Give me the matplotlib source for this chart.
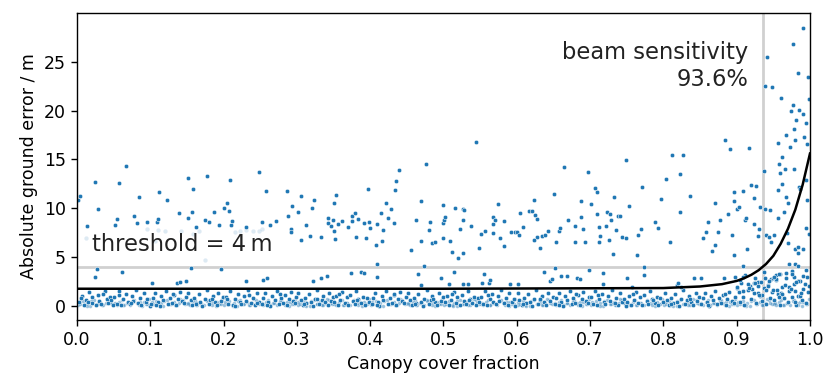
import matplotlib
matplotlib.use('Agg')
import matplotlib.pyplot as plt

# scattered points above the dense band
upper_x = [0.001, 0.004, 0.013, 0.025, 0.029, 0.024, 0.027, 0.054, 0.052, 0.058, 0.067, 0.062,
           0.078, 0.082, 0.084, 0.096, 0.109, 0.110, 0.112, 0.102, 0.123, 0.139, 0.136, 0.141,
           0.149, 0.151, 0.152, 0.157, 0.158, 0.156, 0.163, 0.175, 0.177, 0.180, 0.187, 0.194,
           0.197, 0.200, 0.205, 0.208, 0.209, 0.210, 0.212, 0.231, 0.230, 0.248, 0.253, 0.254,
           0.259, 0.258, 0.264, 0.272, 0.286, 0.288, 0.292, 0.292, 0.293, 0.302, 0.305, 0.306,
           0.313, 0.318, 0.320, 0.324, 0.322, 0.333, 0.333, 0.341, 0.342, 0.342, 0.346, 0.349,
           0.350, 0.350, 0.352, 0.353, 0.356, 0.362, 0.370, 0.374, 0.375, 0.375, 0.379, 0.381,
           0.383, 0.387, 0.391, 0.391, 0.394, 0.397, 0.398, 0.400, 0.408, 0.409, 0.409, 0.409,
           0.415, 0.416, 0.417, 0.422, 0.424, 0.428, 0.432, 0.434, 0.435, 0.440, 0.456, 0.462,
           0.465, 0.470, 0.470, 0.476, 0.474, 0.469, 0.480, 0.482, 0.484, 0.488, 0.496, 0.499,
           0.499, 0.501, 0.502, 0.500, 0.508, 0.509, 0.511, 0.514, 0.516, 0.520, 0.522, 0.526,
           0.528, 0.526, 0.527, 0.527, 0.533, 0.537, 0.544, 0.549, 0.551, 0.556, 0.555, 0.553,
           0.562, 0.564, 0.567, 0.568, 0.570, 0.567, 0.574, 0.577, 0.582, 0.582, 0.591, 0.592,
           0.597, 0.600, 0.603, 0.605, 0.602, 0.608, 0.617, 0.621, 0.624, 0.625, 0.628, 0.628,
           0.623, 0.632, 0.634, 0.637, 0.639, 0.643, 0.645, 0.648, 0.651, 0.652, 0.654, 0.658,
           0.659, 0.661, 0.664, 0.668, 0.670, 0.680, 0.680, 0.682, 0.686, 0.687, 0.687, 0.691,
           0.693, 0.697, 0.699, 0.701, 0.707, 0.709, 0.710, 0.712, 0.713, 0.712, 0.717, 0.718,
           0.722, 0.723, 0.726, 0.727, 0.729, 0.731, 0.733, 0.735, 0.738, 0.741, 0.743, 0.749,
           0.749, 0.751, 0.753, 0.757, 0.764, 0.766, 0.770, 0.771, 0.773, 0.773, 0.789, 0.793,
           0.797, 0.804, 0.809, 0.812, 0.818, 0.820, 0.823, 0.822, 0.827, 0.824, 0.836, 0.842,
           0.851, 0.854, 0.858, 0.861, 0.866, 0.870, 0.871, 0.875, 0.877, 0.883, 0.884, 0.888,
           0.891, 0.893, 0.896, 0.898, 0.896, 0.897, 0.900, 0.903, 0.908, 0.908, 0.911, 0.913,
           0.914, 0.917, 0.920, 0.924, 0.926, 0.930, 0.932, 0.924, 0.929, 0.937, 0.938, 0.942,
           0.939, 0.946, 0.948, 0.940, 0.944, 0.947, 0.951, 0.954, 0.956, 0.957, 0.957, 0.958,
           0.960, 0.959, 0.962, 0.962, 0.966, 0.964, 0.967, 0.967, 0.970, 0.969, 0.970, 0.972,
           0.973, 0.974, 0.977, 0.977, 0.978, 0.979, 0.978, 0.981, 0.980, 0.983, 0.985, 0.986,
           0.985, 0.991, 0.992, 0.991, 0.994, 0.995, 0.996, 0.997, 0.999, 0.995, 0.996, 0.999,
           0.994, 0.991, 0.984, 0.983, 0.979, 0.978, 0.983, 0.976, 0.958, 0.951, 0.944, 0.925,
           0.929]
upper_y = [10.8, 11.2, 8.2, 12.7, 9.9, 3.0, 3.8, 8.9, 8.3, 12.6, 14.3, 3.5,
           9.2, 8.5, 11.1, 8.6, 8.6, 8.9, 11.7, 2.3, 10.8, 9.5, 2.3, 2.4,
           2.5, 9.0, 13.1, 9.6, 12.0, 3.9, 8.1, 8.8, 13.3, 8.6, 9.6, 8.3,
           3.8, 10.0, 10.5, 9.7, 12.9, 8.3, 8.7, 2.5, 8.1, 13.7, 8.6, 2.6,
           2.8, 11.8, 8.3, 8.7, 11.8, 9.2, 7.9, 7.6, 10.2, 9.6, 11.3, 6.7,
           8.3, 7.2, 10.0, 10.8, 2.5, 7.0, 2.9, 3.1, 9.0, 8.5, 8.2, 8.8,
           7.7, 10.5, 6.8, 11.4, 8.4, 8.7, 8.1, 3.4, 8.7, 9.2, 9.5, 7.1,
           8.9, 3.5, 3.4, 8.5, 6.9, 12.0, 8.6, 8.0, 6.2, 4.3, 3.0, 8.4,
           9.5, 6.6, 7.8, 10.5, 9.0, 9.9, 8.5, 11.9, 12.8, 13.9, 5.7, 8.8,
           3.3, 10.7, 6.6, 14.5, 4.1, 2.1, 7.8, 8.6, 6.4, 6.5, 2.8, 10.3,
           8.5, 8.8, 9.1, 6.9, 2.2, 6.6, 5.5, 3.5, 10.0, 4.9, 7.9, 9.9,
           9.8, 8.8, 5.4, 2.2, 2.2, 8.2, 16.8, 5.9, 7.4, 7.7, 3.3, 2.3,
           2.3, 2.6, 9.1, 8.4, 8.8, 7.5, 10.4, 6.9, 6.1, 8.7, 2.2, 7.6,
           7.6, 7.6, 7.3, 9.5, 2.2, 8.1, 9.7, 9.7, 10.8, 9.3, 8.9, 7.1,
           6.7, 5.9, 7.2, 3.5, 7.3, 7.7, 2.5, 2.7, 11.5, 3.9, 6.5, 7.7,
           8.0, 3.1, 14.2, 3.1, 8.8, 6.5, 8.2, 2.9, 2.7, 9.1, 10.7, 7.9,
           6.5, 13.7, 3.7, 10.4, 12.1, 11.7, 9.4, 8.1, 7.2, 6.5, 3.4, 2.2,
           8.2, 9.6, 6.7, 9.4, 8.8, 5.3, 11.1, 7.8, 9.2, 9.2, 7.1, 6.9,
           14.9, 2.9, 10.2, 1.9, 5.2, 7.3, 7.9, 12.2, 4.0, 3.2, 8.6, 8.0,
           10.9, 13.0, 6.5, 15.4, 2.1, 2.3, 13.5, 9.6, 15.4, 1.9, 11.2, 2.8,
           2.8, 6.9, 7.6, 8.6, 5.6, 6.2, 10.5, 7.6, 8.8, 2.9, 17.0, 9.4,
           16.1, 7.3, 5.2, 3.0, 10.7, 11.7, 9.9, 10.1, 11.8, 4.1, 8.8, 9.0,
           5.8, 16.2, 12.4, 11.0, 12.3, 7.9, 10.1, 8.4, 7.2, 13.8, 22.5, 25.5,
           9.9, 9.8, 22.4, 7.3, 7.0, 6.5, 7.3, 3.2, 16.7, 9.0, 11.9, 14.5,
           21.3, 13.6, 12.5, 15.2, 14.0, 9.6, 17.5, 11.1, 10.5, 7.5, 6.4, 4.3,
           16.3, 20.0, 20.6, 26.8, 18.1, 17.0, 14.0, 19.0, 5.8, 23.9, 12.2, 12.0,
           20.1, 19.6, 17.3, 28.5, 8.0, 18.7, 16.6, 23.4, 21.2, 12.9, 10.8, 7.4,
           3.7, 5.8, 5.4, 6.0, 4.3, 3.0, 4.1, 3.3, 3.3, 3.0, 2.5, 2.3,
           2.0]

# faint points
faint_x = [0.012, 0.095, 0.110, 0.120, 0.142, 0.158, 0.167, 0.175, 0.215, 0.222, 0.230,
           0.240, 0.249, 0.253, 0.106]
faint_y = [6.9, 7.9, 7.8, 7.7, 7.7, 7.4, 7.7, 4.7, 7.6, 7.7, 7.8, 7.7, 7.7, 7.9, 6.6]

# dense band of small errors (estimated, it cannot be read point by point)
band_x = [0.003, 0.007, 0.010, 0.012, 0.017, 0.020, 0.021, 0.026, 0.029, 0.030, 0.033, 0.038, 0.041, 0.042, 0.045, 0.049, 0.005, 0.015, 0.035, 0.047,
          0.051, 0.054, 0.058, 0.060, 0.063, 0.067, 0.069, 0.072, 0.075, 0.077, 0.080, 0.083, 0.086, 0.088, 0.091, 0.094, 0.096, 0.099, 0.057, 0.074,
          0.101, 0.104, 0.106, 0.110, 0.113, 0.115, 0.118, 0.121, 0.124, 0.127, 0.129, 0.132, 0.135, 0.138, 0.141, 0.143, 0.146, 0.149, 0.108, 0.131,
          0.152, 0.155, 0.157, 0.160, 0.163, 0.166, 0.168, 0.171, 0.174, 0.177, 0.180, 0.182, 0.185, 0.188, 0.191, 0.193, 0.196, 0.199, 0.162, 0.184,
          0.203, 0.206, 0.209, 0.213, 0.215, 0.219, 0.222, 0.224, 0.228, 0.231, 0.233, 0.237, 0.240, 0.243, 0.245, 0.248, 0.205, 0.216, 0.234, 0.246,
          0.252, 0.254, 0.257, 0.261, 0.264, 0.266, 0.270, 0.273, 0.275, 0.278, 0.281, 0.284, 0.286, 0.289, 0.292, 0.295, 0.297, 0.299, 0.259, 0.277,
          0.301, 0.305, 0.308, 0.311, 0.313, 0.316, 0.319, 0.322, 0.325, 0.327, 0.330, 0.334, 0.336, 0.339, 0.342, 0.344, 0.347, 0.349, 0.310, 0.328,
          0.351, 0.353, 0.356, 0.359, 0.362, 0.365, 0.368, 0.370, 0.373, 0.376, 0.379, 0.381, 0.384, 0.387, 0.390, 0.393, 0.395, 0.398, 0.357, 0.382,
          0.402, 0.404, 0.407, 0.410, 0.412, 0.416, 0.418, 0.421, 0.424, 0.427, 0.430, 0.432, 0.435, 0.438, 0.441, 0.444, 0.446, 0.449, 0.409, 0.433,
          0.451, 0.455, 0.457, 0.460, 0.463, 0.465, 0.469, 0.472, 0.474, 0.477, 0.480, 0.483, 0.485, 0.488, 0.491, 0.494, 0.497, 0.499, 0.461, 0.486,
          0.502, 0.505, 0.508, 0.510, 0.514, 0.517, 0.519, 0.522, 0.525, 0.528, 0.531, 0.533, 0.536, 0.539, 0.542, 0.545, 0.547, 0.549, 0.512, 0.535,
          0.551, 0.554, 0.556, 0.559, 0.563, 0.566, 0.568, 0.571, 0.574, 0.576, 0.579, 0.582, 0.585, 0.588, 0.590, 0.593, 0.596, 0.598, 0.561, 0.583,
          0.601, 0.603, 0.607, 0.610, 0.613, 0.615, 0.618, 0.621, 0.623, 0.626, 0.629, 0.632, 0.635, 0.637, 0.640, 0.643, 0.646, 0.649, 0.609, 0.631,
          0.652, 0.654, 0.657, 0.661, 0.663, 0.666, 0.669, 0.672, 0.675, 0.677, 0.680, 0.683, 0.686, 0.689, 0.691, 0.694, 0.697, 0.699, 0.658, 0.681,
          0.701, 0.704, 0.707, 0.709, 0.712, 0.716, 0.719, 0.721, 0.724, 0.727, 0.730, 0.733, 0.735, 0.738, 0.741, 0.744, 0.746, 0.749, 0.711, 0.734,
          0.751, 0.753, 0.756, 0.760, 0.763, 0.765, 0.768, 0.771, 0.774, 0.777, 0.779, 0.782, 0.785, 0.788, 0.791, 0.793, 0.796, 0.799, 0.758, 0.786,
          0.802, 0.805, 0.807, 0.810, 0.813, 0.816, 0.818, 0.821, 0.824, 0.827, 0.830, 0.832, 0.835, 0.838, 0.841, 0.844, 0.846, 0.849, 0.811, 0.836,
          0.851, 0.854, 0.857, 0.859, 0.862, 0.865, 0.868, 0.871, 0.873, 0.876, 0.879, 0.882, 0.885, 0.887, 0.890, 0.893, 0.896, 0.898, 0.861, 0.884,
          0.901, 0.904, 0.906, 0.909, 0.912, 0.915, 0.918, 0.920, 0.923, 0.926, 0.929, 0.932, 0.934, 0.937, 0.940, 0.943, 0.945, 0.948, 0.910, 0.935,
          0.951, 0.953, 0.956, 0.959, 0.962, 0.964, 0.967, 0.970, 0.972, 0.975, 0.978, 0.981, 0.983, 0.986, 0.989, 0.991, 0.994, 0.996, 0.960, 0.980]
band_y = [0.35, 1.05, 0.12, 0.62, 1.38, 0.25, 0.88, 0.05, 1.12, 0.47, 0.18, 1.55, 0.72, 0.30, 0.95, 0.08, 0.78, 0.41, 1.25, 0.58,
          0.91, 0.22, 1.47, 0.06, 0.66, 1.18, 0.38, 0.15, 1.02, 0.53, 1.62, 0.27, 0.84, 0.10, 1.31, 0.44, 0.69, 0.02, 1.09, 0.33,
          0.14, 0.76, 1.29, 0.40, 0.03, 0.97, 0.59, 1.51, 0.21, 0.83, 0.32, 1.14, 0.07, 0.68, 1.41, 0.49, 0.26, 0.89, 0.11, 1.22,
          1.33, 0.55, 0.09, 0.81, 0.29, 1.16, 0.43, 0.01, 0.74, 1.58, 0.19, 0.64, 1.00, 0.36, 0.13, 1.27, 0.51, 0.86, 0.23, 0.70,
          0.91, 0.22, 1.47, 0.06, 0.66, 1.18, 0.38, 0.15, 1.02, 0.53, 1.62, 0.27, 0.84, 0.10, 1.31, 0.44, 0.69, 0.02, 1.09, 0.33,
          0.14, 0.76, 1.29, 0.40, 0.03, 0.97, 0.59, 1.51, 0.21, 0.83, 0.32, 1.14, 0.07, 0.68, 1.41, 0.49, 0.26, 0.89, 0.11, 1.22,
          1.33, 0.55, 0.09, 0.81, 0.29, 1.16, 0.43, 0.01, 0.74, 1.58, 0.19, 0.64, 1.00, 0.36, 0.13, 1.27, 0.51, 0.86, 0.23, 0.70,
          0.35, 1.05, 0.12, 0.62, 1.38, 0.25, 0.88, 0.05, 1.12, 0.47, 0.18, 1.55, 0.72, 0.30, 0.95, 0.08, 0.78, 0.41, 1.25, 0.58,
          0.14, 0.76, 1.29, 0.40, 0.03, 0.97, 0.59, 1.51, 0.21, 0.83, 0.32, 1.14, 0.07, 0.68, 1.41, 0.49, 0.26, 0.89, 0.11, 1.22,
          1.33, 0.55, 0.09, 0.81, 0.29, 1.16, 0.43, 0.01, 0.74, 1.58, 0.19, 0.64, 1.00, 0.36, 0.13, 1.27, 0.51, 0.86, 0.23, 0.70,
          0.35, 1.05, 0.12, 0.62, 1.38, 0.25, 0.88, 0.05, 1.12, 0.47, 0.18, 1.55, 0.72, 0.30, 0.95, 0.08, 0.78, 0.41, 1.25, 0.58,
          0.91, 0.22, 1.47, 0.06, 0.66, 1.18, 0.38, 0.15, 1.02, 0.53, 1.62, 0.27, 0.84, 0.10, 1.31, 0.44, 0.69, 0.02, 1.09, 0.33,
          1.33, 0.55, 0.09, 0.81, 0.29, 1.16, 0.43, 0.01, 0.74, 1.58, 0.19, 0.64, 1.00, 0.36, 0.13, 1.27, 0.51, 0.86, 0.23, 0.70,
          0.14, 0.76, 1.29, 0.40, 0.03, 0.97, 0.59, 1.51, 0.21, 0.83, 0.32, 1.14, 0.07, 0.68, 1.41, 0.49, 0.26, 0.89, 0.11, 1.22,
          0.91, 0.22, 1.47, 0.06, 0.66, 1.18, 0.38, 0.15, 1.02, 0.53, 1.62, 0.27, 0.84, 0.10, 1.31, 0.44, 0.69, 0.02, 1.09, 0.33,
          0.35, 1.05, 0.12, 0.62, 1.38, 0.25, 0.88, 0.05, 1.12, 0.47, 0.18, 1.55, 0.72, 0.30, 0.95, 0.08, 0.78, 0.41, 1.25, 0.58,
          1.33, 0.55, 0.09, 0.81, 0.29, 1.16, 0.43, 0.01, 0.74, 1.58, 0.19, 0.64, 1.00, 0.36, 0.13, 1.27, 0.51, 0.86, 0.23, 0.70,
          0.14, 0.76, 1.29, 0.40, 0.03, 0.97, 0.59, 1.51, 0.21, 0.83, 0.32, 1.14, 0.07, 0.68, 1.41, 0.49, 0.26, 0.89, 0.11, 1.22,
          1.85, 0.42, 2.30, 0.95, 0.12, 1.60, 2.05, 0.66, 1.30, 0.28, 2.45, 1.02, 0.50, 1.78, 0.18, 2.15, 0.81, 1.42, 0.06, 1.12,
          0.55, 2.60, 1.20, 0.10, 1.95, 0.78, 2.85, 0.35, 1.52, 0.90, 2.20, 0.05, 1.05, 2.50, 0.62, 1.70, 0.25, 2.95, 1.35, 0.40]

# the lowest errors, packed close to zero
low_x = [0.001, 0.004, 0.008, 0.011, 0.014, 0.018, 0.023, 0.027, 0.032, 0.036, 0.039, 0.044, 0.048, 0.002, 0.013, 0.019, 0.028, 0.034, 0.041, 0.046,
         0.051, 0.054, 0.058, 0.061, 0.064, 0.068, 0.073, 0.077, 0.082, 0.086, 0.089, 0.094, 0.098, 0.052, 0.063, 0.069, 0.078, 0.084, 0.091, 0.096,
         0.101, 0.104, 0.108, 0.111, 0.114, 0.118, 0.123, 0.127, 0.132, 0.136, 0.139, 0.144, 0.148, 0.102, 0.113, 0.119, 0.128, 0.134, 0.141, 0.146,
         0.151, 0.154, 0.158, 0.161, 0.164, 0.168, 0.173, 0.177, 0.182, 0.186, 0.189, 0.194, 0.198, 0.152, 0.163, 0.169, 0.178, 0.184, 0.191, 0.196,
         0.201, 0.204, 0.208, 0.211, 0.214, 0.218, 0.223, 0.227, 0.232, 0.236, 0.239, 0.244, 0.248, 0.202, 0.213, 0.219, 0.228, 0.234, 0.241, 0.246,
         0.251, 0.254, 0.258, 0.261, 0.264, 0.268, 0.273, 0.277, 0.282, 0.286, 0.289, 0.294, 0.298, 0.252, 0.263, 0.269, 0.278, 0.284, 0.291, 0.296,
         0.301, 0.304, 0.308, 0.311, 0.314, 0.318, 0.323, 0.327, 0.332, 0.336, 0.339, 0.344, 0.348, 0.302, 0.313, 0.319, 0.328, 0.334, 0.341, 0.346,
         0.351, 0.354, 0.358, 0.361, 0.364, 0.368, 0.373, 0.377, 0.382, 0.386, 0.389, 0.394, 0.398, 0.352, 0.363, 0.369, 0.378, 0.384, 0.391, 0.396,
         0.401, 0.404, 0.408, 0.411, 0.414, 0.418, 0.423, 0.427, 0.432, 0.436, 0.439, 0.444, 0.448, 0.402, 0.413, 0.419, 0.428, 0.434, 0.441, 0.446,
         0.451, 0.454, 0.458, 0.461, 0.464, 0.468, 0.473, 0.477, 0.482, 0.486, 0.489, 0.494, 0.498, 0.452, 0.463, 0.469, 0.478, 0.484, 0.491, 0.496,
         0.501, 0.504, 0.508, 0.511, 0.514, 0.518, 0.523, 0.527, 0.532, 0.536, 0.539, 0.544, 0.548, 0.502, 0.513, 0.519, 0.528, 0.534, 0.541, 0.546,
         0.551, 0.554, 0.558, 0.561, 0.564, 0.568, 0.573, 0.577, 0.582, 0.586, 0.589, 0.594, 0.598, 0.552, 0.563, 0.569, 0.578, 0.584, 0.591, 0.596,
         0.601, 0.604, 0.608, 0.611, 0.614, 0.618, 0.623, 0.627, 0.632, 0.636, 0.639, 0.644, 0.648, 0.602, 0.613, 0.619, 0.628, 0.634, 0.641, 0.646,
         0.651, 0.654, 0.658, 0.661, 0.664, 0.668, 0.673, 0.677, 0.682, 0.686, 0.689, 0.694, 0.698, 0.652, 0.663, 0.669, 0.678, 0.684, 0.691, 0.696,
         0.701, 0.704, 0.708, 0.711, 0.714, 0.718, 0.723, 0.727, 0.732, 0.736, 0.739, 0.744, 0.748, 0.702, 0.713, 0.719, 0.728, 0.734, 0.741, 0.746,
         0.751, 0.754, 0.758, 0.761, 0.764, 0.768, 0.773, 0.777, 0.782, 0.786, 0.789, 0.794, 0.798, 0.752, 0.763, 0.769, 0.778, 0.784, 0.791, 0.796,
         0.801, 0.804, 0.808, 0.811, 0.814, 0.818, 0.823, 0.827, 0.832, 0.836, 0.839, 0.844, 0.848, 0.802, 0.813, 0.819, 0.828, 0.834, 0.841, 0.846,
         0.851, 0.854, 0.858, 0.861, 0.864, 0.868, 0.873, 0.877, 0.882, 0.886, 0.889, 0.894, 0.898, 0.852, 0.863, 0.869, 0.878, 0.884, 0.891, 0.896,
         0.901, 0.904, 0.908, 0.911, 0.914, 0.918, 0.923, 0.927, 0.932, 0.936, 0.939, 0.944, 0.948, 0.902, 0.913, 0.919, 0.928, 0.934, 0.941, 0.946,
         0.951, 0.954, 0.958, 0.961, 0.964, 0.968, 0.973, 0.977, 0.982, 0.986, 0.989, 0.994, 0.998, 0.952, 0.963, 0.969, 0.978, 0.984, 0.991, 0.996]
low_y = [0.05, 0.21, 0.48, 0.11, 0.33, 0.02, 0.64, 0.17, 0.40, 0.08, 0.27, 0.56, 0.14, 0.36, 0.01, 0.45, 0.23, 0.09, 0.71, 0.30,
         0.19, 0.04, 0.38, 0.60, 0.12, 0.29, 0.07, 0.51, 0.24, 0.43, 0.03, 0.16, 0.67, 0.34, 0.10, 0.26, 0.55, 0.06, 0.41, 0.20,
         0.05, 0.21, 0.48, 0.11, 0.33, 0.02, 0.64, 0.17, 0.40, 0.08, 0.27, 0.56, 0.14, 0.36, 0.01, 0.45, 0.23, 0.09, 0.71, 0.30,
         0.19, 0.04, 0.38, 0.60, 0.12, 0.29, 0.07, 0.51, 0.24, 0.43, 0.03, 0.16, 0.67, 0.34, 0.10, 0.26, 0.55, 0.06, 0.41, 0.20,
         0.05, 0.21, 0.48, 0.11, 0.33, 0.02, 0.64, 0.17, 0.40, 0.08, 0.27, 0.56, 0.14, 0.36, 0.01, 0.45, 0.23, 0.09, 0.71, 0.30,
         0.19, 0.04, 0.38, 0.60, 0.12, 0.29, 0.07, 0.51, 0.24, 0.43, 0.03, 0.16, 0.67, 0.34, 0.10, 0.26, 0.55, 0.06, 0.41, 0.20,
         0.05, 0.21, 0.48, 0.11, 0.33, 0.02, 0.64, 0.17, 0.40, 0.08, 0.27, 0.56, 0.14, 0.36, 0.01, 0.45, 0.23, 0.09, 0.71, 0.30,
         0.19, 0.04, 0.38, 0.60, 0.12, 0.29, 0.07, 0.51, 0.24, 0.43, 0.03, 0.16, 0.67, 0.34, 0.10, 0.26, 0.55, 0.06, 0.41, 0.20,
         0.05, 0.21, 0.48, 0.11, 0.33, 0.02, 0.64, 0.17, 0.40, 0.08, 0.27, 0.56, 0.14, 0.36, 0.01, 0.45, 0.23, 0.09, 0.71, 0.30,
         0.19, 0.04, 0.38, 0.60, 0.12, 0.29, 0.07, 0.51, 0.24, 0.43, 0.03, 0.16, 0.67, 0.34, 0.10, 0.26, 0.55, 0.06, 0.41, 0.20,
         0.05, 0.21, 0.48, 0.11, 0.33, 0.02, 0.64, 0.17, 0.40, 0.08, 0.27, 0.56, 0.14, 0.36, 0.01, 0.45, 0.23, 0.09, 0.71, 0.30,
         0.19, 0.04, 0.38, 0.60, 0.12, 0.29, 0.07, 0.51, 0.24, 0.43, 0.03, 0.16, 0.67, 0.34, 0.10, 0.26, 0.55, 0.06, 0.41, 0.20,
         0.05, 0.21, 0.48, 0.11, 0.33, 0.02, 0.64, 0.17, 0.40, 0.08, 0.27, 0.56, 0.14, 0.36, 0.01, 0.45, 0.23, 0.09, 0.71, 0.30,
         0.19, 0.04, 0.38, 0.60, 0.12, 0.29, 0.07, 0.51, 0.24, 0.43, 0.03, 0.16, 0.67, 0.34, 0.10, 0.26, 0.55, 0.06, 0.41, 0.20,
         0.05, 0.21, 0.48, 0.11, 0.33, 0.02, 0.64, 0.17, 0.40, 0.08, 0.27, 0.56, 0.14, 0.36, 0.01, 0.45, 0.23, 0.09, 0.71, 0.30,
         0.19, 0.04, 0.38, 0.60, 0.12, 0.29, 0.07, 0.51, 0.24, 0.43, 0.03, 0.16, 0.67, 0.34, 0.10, 0.26, 0.55, 0.06, 0.41, 0.20,
         0.05, 0.21, 0.48, 0.11, 0.33, 0.02, 0.64, 0.17, 0.40, 0.08, 0.27, 0.56, 0.14, 0.36, 0.01, 0.45, 0.23, 0.09, 0.71, 0.30,
         0.19, 0.04, 0.38, 0.60, 0.12, 0.29, 0.07, 0.51, 0.24, 0.43, 0.03, 0.16, 0.67, 0.34, 0.10, 0.26, 0.55, 0.06, 0.41, 0.20,
         0.05, 0.21, 0.48, 0.11, 0.33, 0.02, 0.64, 0.17, 0.40, 0.08, 0.27, 0.56, 0.14, 0.36, 0.01, 0.45, 0.23, 0.09, 0.71, 0.30,
         0.19, 0.04, 0.38, 0.60, 0.12, 0.29, 0.07, 0.51, 0.24, 0.43, 0.03, 0.16, 0.67, 0.34, 0.10, 0.26, 0.55, 0.06, 0.41, 0.20]

# raised errors just before full canopy cover
edge_x = [0.900, 0.905, 0.909, 0.912, 0.916, 0.921, 0.925, 0.929, 0.933, 0.937, 0.940, 0.943, 0.947, 0.903, 0.908, 0.917, 0.924, 0.931, 0.938, 0.949,
          0.950, 0.955, 0.959, 0.962, 0.966, 0.971, 0.975, 0.979, 0.983, 0.987, 0.990, 0.993, 0.997, 0.953, 0.958, 0.967, 0.974, 0.981, 0.988, 0.999]
edge_y = [1.90, 2.60, 1.50, 3.20, 2.20, 1.70, 2.90, 1.30, 2.40, 3.50, 1.60, 2.00, 2.70, 1.40, 3.00, 1.80, 2.30, 1.10, 2.80, 1.60,
          2.80, 1.60, 3.30, 1.20, 2.10, 1.90, 3.60, 1.50, 2.50, 1.00, 3.10, 2.20, 1.40, 2.70, 0.90, 3.40, 1.70, 2.40, 1.30, 2.00]

# fitted error model
curve_x = [0.0, 0.5, 0.8, 0.85, 0.88, 0.9, 0.91, 0.92, 0.93, 0.94, 0.95, 0.96, 0.97, 0.98, 0.99, 1.0]
curve_y = [1.75, 1.75, 1.82, 1.98, 2.22, 2.55, 2.82, 3.18, 3.65, 4.28, 5.12, 6.35, 7.9, 9.85, 12.4, 15.6]

threshold = 4
sensitivity = 0.936

fig = plt.figure(figsize=(8.26, 3.76), dpi=100)
ax = fig.add_axes([0.0932, 0.149, 0.8874, 0.8165])

ax.axhline(threshold, color='#d0d0d0', lw=2, zorder=1)
ax.axvline(sensitivity, color='#d0d0d0', lw=2, zorder=1)

dot = dict(s=10, color='#1f77b4', edgecolor='white', linewidth=0.35, zorder=2)
ax.scatter(low_x, low_y, s=7, color='#1f77b4', alpha=0.45, edgecolor='white', linewidth=0.3, zorder=2)
ax.scatter(band_x, band_y, **dot)
ax.scatter(edge_x, edge_y, **dot)
ax.scatter(faint_x, faint_y, s=10, color='#1f77b4', alpha=0.15, edgecolor='white', linewidth=0.35, zorder=2)
ax.scatter(upper_x, upper_y, **dot)

ax.plot(curve_x, curve_y, color='black', lw=1.8, zorder=3)

ax.text(0.02, 5.65, 'threshold = 4\u2009m', fontsize=16.25, color='#222222', va='baseline')
ax.text(sensitivity - 0.02, 27.1, 'beam sensitivity\n93.6%', fontsize=16.25, color='#222222',
        ha='right', va='top', multialignment='right')

ax.set_xlim(0, 1)
ax.set_ylim(-1.45, 30)
ax.set_xticks([0.0, 0.1, 0.2, 0.3, 0.4, 0.5, 0.6, 0.7, 0.8, 0.9, 1.0])
ax.set_yticks([0, 5, 10, 15, 20, 25])
ax.tick_params(labelsize=12.5, length=4.4, width=1)
for sp in ax.spines.values():
    sp.set_linewidth(1)
ax.set_xlabel('Canopy cover fraction', fontsize=12.5)
ax.set_ylabel('Absolute ground error / m', fontsize=12.5)

fig.savefig('out.png', dpi=100)
